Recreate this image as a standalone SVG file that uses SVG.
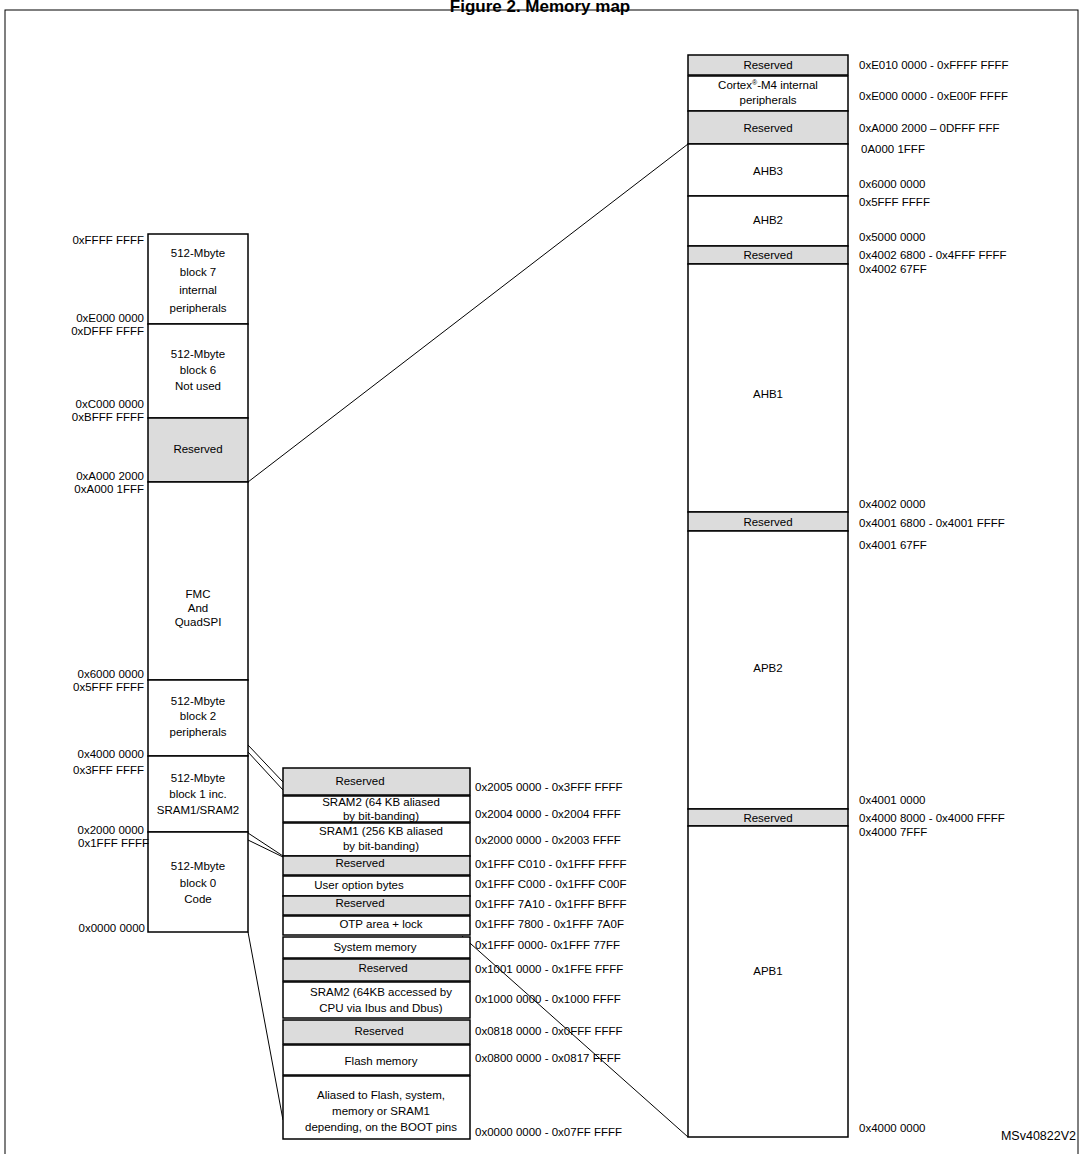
<svg xmlns="http://www.w3.org/2000/svg" width="1081" height="1154" viewBox="0 0 1081 1154">
<style>
text{font-family:"Liberation Sans",Arial,sans-serif;font-size:11.5px;fill:#000}
.c{text-anchor:middle}
.r{text-anchor:end}
.w{fill:#fff;stroke:#000;stroke-width:1.5}
.g{fill:#dcdcdc;stroke:#000;stroke-width:1.5}
.l{stroke:#000;stroke-width:1;fill:none}
</style>
<rect width="1081" height="1154" fill="#fff"/>
<text x="540" y="12" class="c" style="font-size:17px;font-weight:bold">Figure 2. Memory map</text>
<rect x="5" y="10" width="1073" height="1150" fill="none" stroke="#000" stroke-width="1"/>
<g id="connectors">
<line class="l" x1="248" y1="482" x2="688" y2="144"/>
<line class="l" x1="248" y1="745" x2="283" y2="782"/>
<line class="l" x1="248" y1="752" x2="283" y2="790"/>
<line class="l" x1="248" y1="833" x2="283" y2="856"/>
<line class="l" x1="248" y1="840" x2="283" y2="857"/>
<line class="l" x1="248" y1="932" x2="283" y2="1120"/>
<line class="l" x1="462" y1="936" x2="688" y2="1137"/>
</g>
<g id="left">
<rect class="w" x="148" y="234" width="100" height="90"/>
<text x="198" y="257" class="c">512-Mbyte</text><text x="198" y="276" class="c">block 7</text><text x="198" y="294" class="c">internal</text><text x="198" y="312" class="c">peripherals</text>
<rect class="w" x="148" y="324" width="100" height="94"/>
<text x="198" y="358" class="c">512-Mbyte</text><text x="198" y="374" class="c">block 6</text><text x="198" y="390" class="c">Not used</text>
<rect class="g" x="148" y="418" width="100" height="64"/>
<text x="198" y="453" class="c">Reserved</text>
<rect class="w" x="148" y="482" width="100" height="198"/>
<text x="198" y="598" class="c">FMC</text><text x="198" y="612" class="c">And</text><text x="198" y="626" class="c">QuadSPI</text>
<rect class="w" x="148" y="680" width="100" height="76"/>
<text x="198" y="705" class="c">512-Mbyte</text><text x="198" y="720" class="c">block 2</text><text x="198" y="736" class="c">peripherals</text>
<rect class="w" x="148" y="756" width="100" height="76"/>
<text x="198" y="782" class="c">512-Mbyte</text><text x="198" y="798" class="c">block 1 inc.</text><text x="198" y="814" class="c">SRAM1/SRAM2</text>
<rect class="w" x="148" y="832" width="100" height="100"/>
<text x="198" y="870" class="c">512-Mbyte</text><text x="198" y="887" class="c">block 0</text><text x="198" y="903" class="c">Code</text>
<text x="144" y="244" class="r">0xFFFF FFFF</text>
<text x="144" y="322" class="r">0xE000 0000</text><text x="144" y="335" class="r">0xDFFF FFFF</text>
<text x="144" y="408" class="r">0xC000 0000</text><text x="144" y="421" class="r">0xBFFF FFFF</text>
<text x="144" y="480" class="r">0xA000 2000</text><text x="144" y="493" class="r">0xA000 1FFF</text>
<text x="144" y="678" class="r">0x6000 0000</text><text x="144" y="691" class="r">0x5FFF FFFF</text>
<text x="144" y="758" class="r">0x4000  0000</text><text x="144" y="774" class="r">0x3FFF  FFFF</text>
<text x="144" y="834" class="r">0x2000 0000</text><text x="149" y="847" class="r">0x1FFF FFFF</text>
<text x="145" y="932" class="r">0x0000 0000</text>
</g>
<g id="middle">
<rect class="g" x="283" y="768" width="187" height="27"/><text x="360" y="785" class="c">Reserved</text>
<rect class="w" x="283" y="796" width="187" height="26"/><text x="381" y="806" class="c">SRAM2 (64 KB aliased</text><text x="381" y="820" class="c">by bit-banding)</text>
<rect class="w" x="283" y="823" width="187" height="33"/><text x="381" y="835" class="c">SRAM1 (256 KB aliased</text><text x="381" y="850" class="c">by bit-banding)</text>
<rect class="g" x="283" y="856" width="187" height="19"/><text x="360" y="867" class="c">Reserved</text>
<rect class="w" x="283" y="876" width="187" height="20"/><text x="359" y="889" class="c">User option bytes</text>
<rect class="g" x="283" y="896" width="187" height="19"/><text x="360" y="907" class="c">Reserved</text>
<rect class="w" x="283" y="916" width="187" height="19"/><text x="381" y="928" class="c">OTP area + lock</text>
<rect class="w" x="283" y="937" width="187" height="21"/><text x="375" y="951" class="c">System memory</text>
<rect class="g" x="283" y="959" width="187" height="22"/><text x="383" y="972" class="c">Reserved</text>
<rect class="w" x="283" y="982" width="187" height="36"/><text x="381" y="996" class="c">SRAM2 (64KB accessed by</text><text x="381" y="1012" class="c">CPU via Ibus and Dbus)</text>
<rect class="g" x="283" y="1020" width="187" height="24"/><text x="379" y="1035" class="c">Reserved</text>
<rect class="w" x="283" y="1045" width="187" height="30"/><text x="381" y="1065" class="c">Flash memory</text>
<rect class="w" x="283" y="1076" width="187" height="63"/><text x="381" y="1099" class="c">Aliased to Flash, system,</text><text x="381" y="1115" class="c">memory or SRAM1</text><text x="381" y="1131" class="c">depending, on the BOOT pins</text>
<text x="475" y="791">0x2005 0000 - 0x3FFF FFFF</text>
<text x="475" y="818">0x2004 0000 - 0x2004 FFFF</text>
<text x="475" y="844">0x2000 0000 - 0x2003 FFFF</text>
<text x="475" y="868">0x1FFF C010 - 0x1FFF FFFF</text>
<text x="475" y="888">0x1FFF C000 - 0x1FFF C00F</text>
<text x="475" y="908">0x1FFF 7A10 - 0x1FFF BFFF</text>
<text x="475" y="928">0x1FFF 7800 -  0x1FFF 7A0F</text>
<text x="475" y="949">0x1FFF 0000- 0x1FFF 77FF</text>
<text x="475" y="973">0x1001 0000 - 0x1FFE FFFF</text>
<text x="475" y="1003">0x1000 0000 - 0x1000 FFFF</text>
<text x="475" y="1035">0x0818 0000 - 0x0FFF FFFF</text>
<text x="475" y="1062">0x0800 0000 - 0x0817 FFFF</text>
<text x="475" y="1136">0x0000 0000 - 0x07FF FFFF</text>
</g>
<g id="right">
<rect class="g" x="688" y="55" width="160" height="20"/><text x="768" y="69" class="c">Reserved</text>
<rect class="w" x="688" y="76" width="160" height="35"/><text x="768" y="89" class="c">Cortex<tspan dy="-4" style="font-size:7px">®</tspan><tspan dy="4">-M4 internal</tspan></text><text x="768" y="104" class="c">peripherals</text>
<rect class="g" x="688" y="111" width="160" height="33"/><text x="768" y="132" class="c">Reserved</text>
<rect class="w" x="688" y="144" width="160" height="52"/><text x="768" y="175" class="c">AHB3</text>
<rect class="w" x="688" y="196" width="160" height="50"/><text x="768" y="224" class="c">AHB2</text>
<rect class="g" x="688" y="246" width="160" height="18"/><text x="768" y="259" class="c">Reserved</text>
<rect class="w" x="688" y="264" width="160" height="248"/><text x="768" y="398" class="c">AHB1</text>
<rect class="g" x="688" y="512" width="160" height="19"/><text x="768" y="526" class="c">Reserved</text>
<rect class="w" x="688" y="531" width="160" height="278"/><text x="768" y="672" class="c">APB2</text>
<rect class="g" x="688" y="809" width="160" height="17"/><text x="768" y="822" class="c">Reserved</text>
<rect class="w" x="688" y="826" width="160" height="311"/><text x="768" y="975" class="c">APB1</text>
<text x="859" y="69">0xE010 0000 - 0xFFFF FFFF</text>
<text x="859" y="100">0xE000 0000 - 0xE00F FFFF</text>
<text x="859" y="132">0xA000 2000 – 0DFFF FFF</text>
<text x="861" y="153">0A000 1FFF</text>
<text x="859" y="188">0x6000 0000</text>
<text x="859" y="206">0x5FFF FFFF</text>
<text x="859" y="241">0x5000 0000</text>
<text x="859" y="259">0x4002 6800 - 0x4FFF FFFF</text>
<text x="859" y="273">0x4002 67FF</text>
<text x="859" y="508">0x4002 0000</text>
<text x="859" y="527">0x4001 6800 - 0x4001 FFFF</text>
<text x="859" y="549">0x4001 67FF</text>
<text x="859" y="804">0x4001 0000</text>
<text x="859" y="822">0x4000 8000 - 0x4000 FFFF</text>
<text x="859" y="836">0x4000 7FFF</text>
<text x="859" y="1132">0x4000 0000</text>
<text x="1076" y="1140" class="r" style="font-size:12.5px">MSv40822V2</text>
</g>
</svg>
